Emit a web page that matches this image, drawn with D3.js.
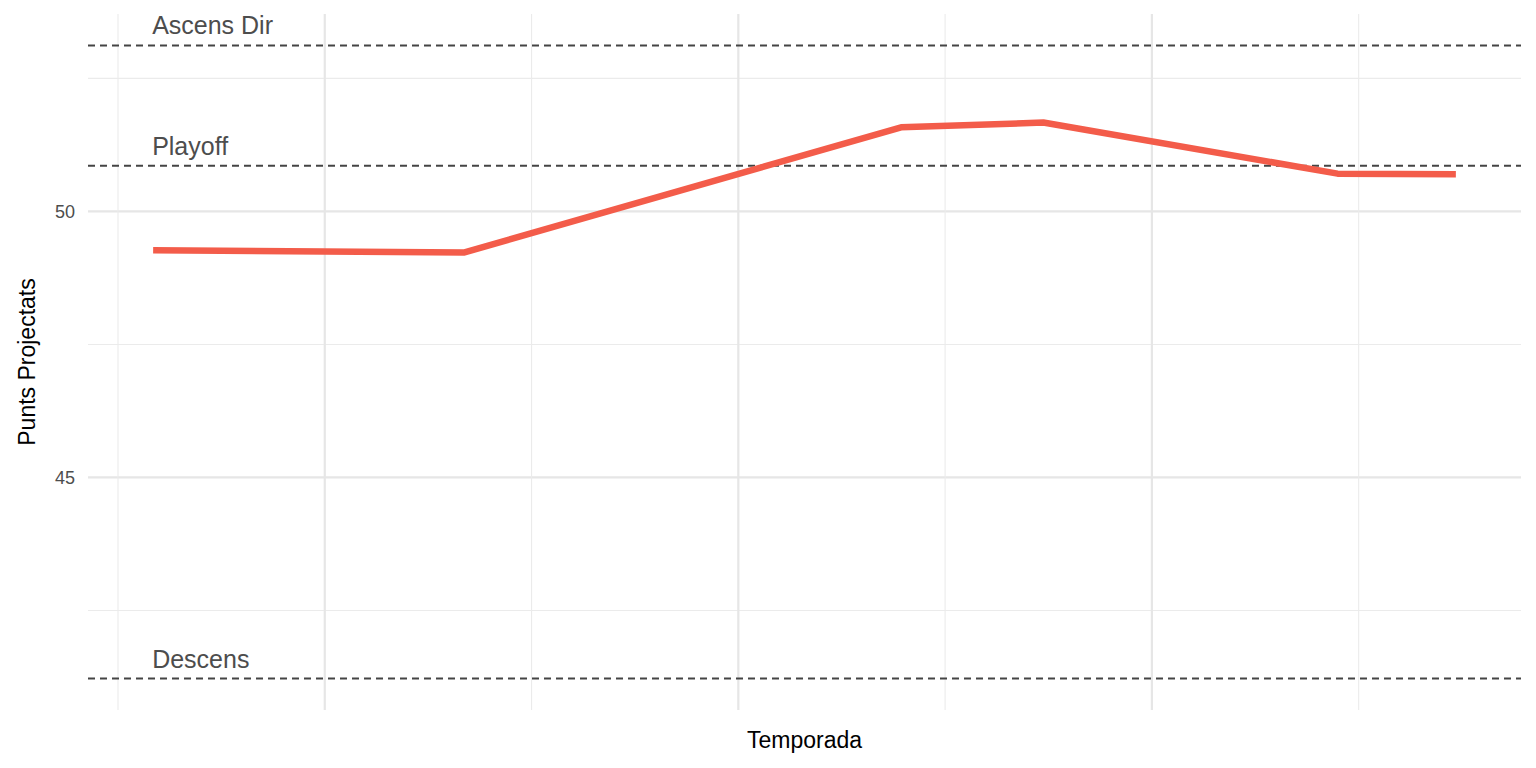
<!DOCTYPE html>
<html>
<head>
<meta charset="utf-8">
<script src="https://cdn.jsdelivr.net/npm/d3@7"></script>
<style>
  body { margin: 0; background: #fff; }
  text { font-family: "Liberation Sans", Arial, sans-serif; }
</style>
</head>
<body>
<div id="chart"></div>
<script>
const WIDTH = 1536;
const HEIGHT = 768;

// Series (x = position along season, y = projected points)
const seasonX = [0.17, 1.676, 3.787, 4.475, 5.898, 6.47];
const points = [49.27, 49.23, 51.58, 51.67, 50.71, 50.70];

// Threshold lines
const thresholdLabels = ['Ascens Dir', 'Playoff', 'Descens'];
const thresholdValues = [53.12, 50.86, 41.22];

const yTicks = [45, 50];
const yMinor = [42.5, 47.5, 52.5];
const xMajor = [1, 3, 5];
const xMinor = [0, 2, 4, 6];

const margin = {left: 88, right: 15, top: 14, bottom: 58};

const xScale = d3.scaleLinear()
  .domain([-0.145, 6.785])
  .range([margin.left, WIDTH - margin.right]);

const yScale = d3.scaleLinear()
  .domain([40.63, 53.71])
  .range([HEIGHT - margin.bottom, margin.top]);

const svg = d3.select('#chart').append('svg')
  .attr('width', WIDTH)
  .attr('height', HEIGHT);

// Gridlines
svg.selectAll('.ymin').data(yMinor).enter().append('line')
  .attr('x1', margin.left).attr('x2', WIDTH - margin.right)
  .attr('y1', d => yScale(d)).attr('y2', d => yScale(d))
  .attr('stroke', '#ebebeb').attr('stroke-width', 1.1);
svg.selectAll('.ymaj').data(yTicks).enter().append('line')
  .attr('x1', margin.left).attr('x2', WIDTH - margin.right)
  .attr('y1', d => yScale(d)).attr('y2', d => yScale(d))
  .attr('stroke', '#e6e6e6').attr('stroke-width', 2.2);
svg.selectAll('.xmin').data(xMinor).enter().append('line')
  .attr('y1', margin.top).attr('y2', HEIGHT - margin.bottom)
  .attr('x1', d => xScale(d)).attr('x2', d => xScale(d))
  .attr('stroke', '#ebebeb').attr('stroke-width', 1.1);
svg.selectAll('.xmaj').data(xMajor).enter().append('line')
  .attr('y1', margin.top).attr('y2', HEIGHT - margin.bottom)
  .attr('x1', d => xScale(d)).attr('x2', d => xScale(d))
  .attr('stroke', '#e6e6e6').attr('stroke-width', 2.2);

// Threshold dashed lines + labels
svg.selectAll('.thr').data(thresholdValues).enter().append('line')
  .attr('x1', margin.left).attr('x2', WIDTH - margin.right)
  .attr('y1', d => yScale(d)).attr('y2', d => yScale(d))
  .attr('stroke', '#444').attr('stroke-width', 2)
  .attr('stroke-dasharray', '7,5');
svg.selectAll('.thrlab').data(thresholdValues).enter().append('text')
  .attr('x', xScale(0.17) - 1)
  .attr('y', d => yScale(d) - 11)
  .attr('font-size', 25)
  .attr('fill', '#4d4d4d')
  .text((d, i) => thresholdLabels[i]);

// Line
const line = d3.line()
  .x((d, i) => xScale(seasonX[i]))
  .y(d => yScale(d));
svg.append('path')
  .datum(points)
  .attr('d', line)
  .attr('fill', 'none')
  .attr('stroke', '#f35c4a')
  .attr('stroke-width', 6.5)
  .attr('stroke-linejoin', 'round');

// Y tick labels
svg.selectAll('.ytl').data(yTicks).enter().append('text')
  .attr('x', 75).attr('y', d => yScale(d))
  .attr('dy', '0.35em')
  .attr('text-anchor', 'end')
  .attr('font-size', 18)
  .attr('fill', '#4d4d4d')
  .text(d => d);

// Axis titles
svg.append('text')
  .attr('x', (margin.left + WIDTH - margin.right) / 2)
  .attr('y', 748)
  .attr('text-anchor', 'middle')
  .attr('font-size', 23)
  .text('Temporada');
svg.append('text')
  .attr('transform', 'translate(35,' + ((margin.top + HEIGHT - margin.bottom) / 2) + ') rotate(-90)')
  .attr('text-anchor', 'middle')
  .attr('font-size', 23)
  .text('Punts Projectats');
</script>
</body>
</html>
